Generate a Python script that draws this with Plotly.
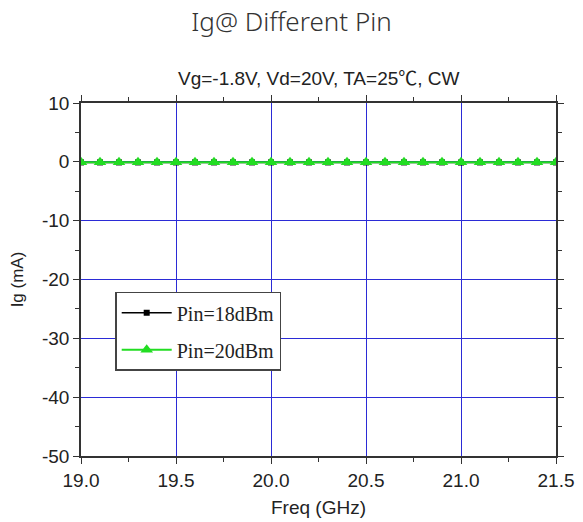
import plotly.graph_objects as go

# Gate current vs. frequency for two input power levels
freq_ghz = [19.0, 19.1, 19.2, 19.3, 19.4, 19.5, 19.6, 19.7, 19.8, 19.9,
            20.0, 20.1, 20.2, 20.3, 20.4, 20.5, 20.6, 20.7, 20.8, 20.9,
            21.0, 21.1, 21.2, 21.3, 21.4, 21.5]
ig_pin18 = [-0.10, -0.10, -0.10, -0.10, -0.10, -0.10, -0.10, -0.10, -0.10, -0.10,
            -0.10, -0.10, -0.10, -0.10, -0.10, -0.10, -0.10, -0.10, -0.10, -0.10,
            -0.12, -0.10, -0.10, -0.10, -0.10, -0.10]
ig_pin20 = [-0.05, -0.05, -0.05, -0.05, -0.05, -0.05, -0.05, -0.05, -0.05, -0.05,
            -0.05, -0.05, -0.05, -0.05, -0.05, -0.05, -0.05, -0.05, -0.05, -0.05,
            -0.05, -0.05, -0.05, -0.05, -0.05, -0.05]
x_ticks = [19.0, 19.5, 20.0, 20.5, 21.0, 21.5]
y_ticks = [10, 0, -10, -20, -30, -40, -50]

fig = go.Figure()
fig.add_trace(go.Scatter(
    x=freq_ghz, y=ig_pin18, mode="lines+markers", name="Pin=18dBm",
    legendgroup="a",
    line=dict(color="black", width=1.5),
    marker=dict(symbol="square", size=6, color="black"),
))
fig.add_trace(go.Scatter(
    x=freq_ghz, y=ig_pin20, mode="lines+markers", name="Pin=20dBm",
    legendgroup="b",
    line=dict(color="#22dd22", width=2),
    marker=dict(symbol="triangle-up", size=11, color="#22dd22"),
))

axis_common = dict(
    showline=True, linecolor="#333333", linewidth=1.5, mirror="ticks",
    ticks="outside", ticklen=6, tickwidth=1.2, tickcolor="#333333",
    showgrid=True, gridcolor="#2b2bd6", gridwidth=1,
    zeroline=False, automargin=False,
    tickfont=dict(family="Liberation Sans, Arial", size=19, color="#222222"),
)

fig.update_xaxes(
    range=[19.0, 21.5], tickvals=x_ticks, ticktext=[f"{v:.1f}" for v in x_ticks],
    title_text="Freq (GHz)", title_standoff=11,
    title_font=dict(family="Liberation Sans, Arial", size=19, color="#222222"),
    minor=dict(dtick=0.25, tick0=19.0, ticks="outside", ticklen=4,
               tickcolor="#333333", showgrid=False),
    **axis_common,
)
fig.update_yaxes(
    range=[-50, 10], tickvals=y_ticks, ticktext=[str(v) for v in y_ticks],
    title_text="Ig (mA)", title_standoff=14,
    title_font=dict(family="Liberation Sans, Arial", size=17, color="#222222"),
    minor=dict(dtick=5, tick0=0, ticks="outside", ticklen=4,
               tickcolor="#333333", showgrid=False),
    **axis_common,
)

subtitle = ("Vg=-1.8V, Vd=20V, TA=25"
            "<span style='font-family:Noto Sans CJK SC'>℃</span>, CW")

fig.update_layout(
    width=583, height=522,
    margin=dict(l=81, r=27, t=103, b=66),
    paper_bgcolor="white", plot_bgcolor="white",
    title=dict(
        text="Ig@ Different Pin", x=0.5, xanchor="center", y=0.958, yanchor="middle",
        font=dict(family="Noto Sans", size=26, color="#333333", weight=300),
    ),
    legend=dict(
        x=0.072, y=0.465, xanchor="left", yanchor="top",
        bgcolor="white", bordercolor="#444444", borderwidth=1.5,
        font=dict(family="Liberation Serif, Times New Roman", size=20, color="#222222"),
        tracegroupgap=8, itemwidth=50,
    ),
    annotations=[dict(
        text=subtitle, xref="paper", yref="paper",
        x=0.5, y=1.0, yshift=27, xanchor="center", yanchor="middle", showarrow=False,
        font=dict(family="Liberation Sans, Arial", size=19, color="#222222"),
    )],
)

fig.write_html("out.html")
